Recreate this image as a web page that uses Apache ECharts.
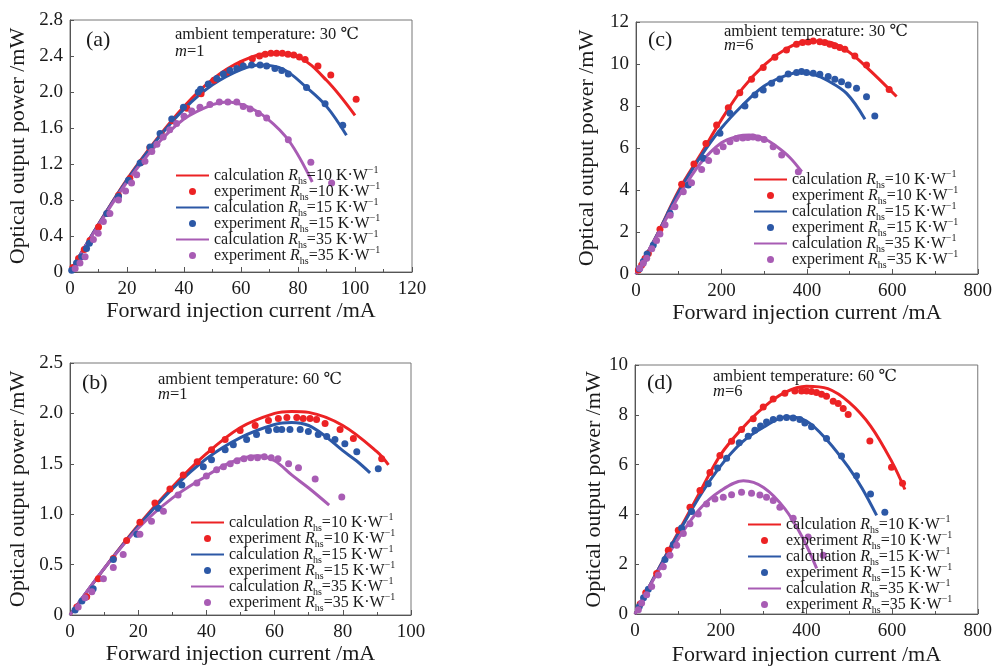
<!DOCTYPE html>
<html>
<head>
<meta charset="utf-8">
<script src="https://cdn.jsdelivr.net/npm/echarts@6/dist/echarts.min.js"></script>
<style>
  html, body { margin: 0; padding: 0; background: #fff; }
  #chart { width: 995px; height: 667px; }
</style>
</head>
<body>
<div id="chart"></div>
<script>
// ---- data: [current mA, power mW] ----
// (a) 30 C, m=1
var aCalc10 = [[0,0],[10,0.53],[20,1.03],[30,1.46],[40,1.84],[50,2.14],[60,2.34],[70,2.43],[80,2.39],[90,2.13],[100,1.74]];
var aCalc15 = [[0,0],[10,0.53],[20,1.02],[30,1.45],[40,1.81],[50,2.08],[60,2.25],[67,2.30],[75,2.25],[83,2.05],[90,1.84],[97,1.52]];
var aCalc35 = [[0,0],[10,0.52],[20,1.0],[30,1.40],[40,1.70],[50,1.86],[55,1.89],[62,1.84],[69,1.71],[77,1.45],[85,1.00]];
var aExp10 = [[1,0.05],[3,0.15],[5,0.25],[7,0.35],[10,0.5],[13,0.65],[17,0.85],[21,1.04],[25,1.22],[28,1.38],[32,1.53],[36,1.68],[41,1.82],[46,1.98],[50.5,2.13],[55,2.22],[60,2.31],[64,2.37],[66.5,2.4],[68.5,2.42],[70.5,2.43],[72.5,2.43],[74.5,2.43],[76.5,2.42],[78.5,2.41],[80.5,2.39],[82.5,2.36],[87,2.29],[91.5,2.19],[100.4,1.92]];
var aExp15 = [[0.6,0.02],[2.3,0.1],[4.1,0.17],[5.8,0.26],[6.8,0.32],[12.9,0.65],[17,0.84],[20.5,1.02],[24.6,1.21],[28.1,1.39],[31.6,1.54],[35.7,1.7],[39.8,1.83],[45,2.0],[45.8,2.03],[48.5,2.09],[51.5,2.15],[53.8,2.2],[56.1,2.24],[58.5,2.26],[60.8,2.29],[63.7,2.3],[66.7,2.3],[69,2.29],[71.9,2.26],[74.3,2.24],[76.6,2.2],[83,2.05],[89.5,1.87],[95.7,1.63]];
var aExp35 = [[1.8,0.04],[3.5,0.1],[5.3,0.17],[8.2,0.36],[9.9,0.43],[11.7,0.56],[14,0.65],[17,0.8],[19.5,0.9],[21.6,0.99],[23.4,1.08],[26.3,1.23],[28.7,1.34],[30.5,1.42],[32.7,1.5],[35,1.58],[37.4,1.65],[40,1.73],[42.7,1.79],[45.6,1.83],[49.1,1.86],[52.4,1.89],[55.4,1.89],[58.5,1.89],[60.8,1.84],[63.2,1.81],[66.1,1.76],[69,1.71],[76.6,1.47],[84.5,1.22],[91.8,0.99]];

// (b) 60 C, m=1
var bCalc10 = [[0,0],[10,0.46],[20,0.89],[30,1.27],[40,1.6],[50,1.86],[60,2.0],[65,2.02],[70,2.01],[80,1.88],[90,1.62],[93.4,1.49]];
var bCalc15 = [[0,0],[10,0.46],[20,0.88],[30,1.25],[40,1.55],[50,1.76],[60,1.89],[65,1.91],[70,1.88],[75,1.77],[80,1.63],[84,1.53],[88,1.41]];
var bCalc35 = [[0,0],[10,0.46],[20,0.86],[30,1.16],[40,1.38],[45,1.48],[50,1.55],[55,1.58],[60,1.53],[65,1.39],[70,1.26],[76,1.09]];
var bExp10 = [[2,0.08],[4.9,0.18],[8.3,0.36],[12.7,0.56],[16.6,0.74],[20.5,0.92],[24.9,1.11],[29.3,1.25],[33.2,1.39],[37.3,1.52],[41.5,1.64],[45.5,1.74],[49.9,1.83],[54.3,1.88],[58.2,1.93],[61.1,1.95],[63.6,1.96],[66.5,1.96],[68.4,1.95],[70.4,1.95],[72.3,1.94],[74.8,1.9],[79.2,1.84],[83.1,1.75],[91.4,1.55]];
var bExp15 = [[1.5,0.05],[3.5,0.14],[6.8,0.26],[12.7,0.55],[19.6,0.8],[25.9,1.06],[32.8,1.29],[39.1,1.47],[41.5,1.54],[45.5,1.64],[47.9,1.69],[51.8,1.74],[54.7,1.79],[58.2,1.83],[60.6,1.84],[62.1,1.84],[64.5,1.84],[67.5,1.84],[69.9,1.82],[72.8,1.79],[75.3,1.77],[77.7,1.74],[80.6,1.7],[84.1,1.62],[90.4,1.45]];
var bExp35 = [[2.4,0.08],[4.4,0.17],[6.4,0.23],[9.8,0.36],[12.7,0.47],[15.6,0.6],[20.5,0.8],[23.9,0.93],[27.4,1.03],[31.7,1.19],[37.2,1.31],[40,1.38],[43,1.44],[45,1.47],[47,1.5],[49,1.53],[51,1.55],[53,1.56],[55,1.56],[57,1.57],[59,1.56],[61,1.55],[64.1,1.5],[67,1.46],[71.9,1.35],[79.7,1.17]];

// (c) 30 C, m=6
var cCalc10 = [[0,0],[50,1.9],[100,3.98],[150,5.65],[200,7.35],[250,8.85],[300,9.95],[350,10.7],[400,11.1],[450,11.05],[500,10.55],[550,9.65],[610,8.45]];
var cCalc15 = [[0,0],[50,1.9],[100,3.9],[150,5.55],[200,6.95],[250,8.05],[300,8.95],[350,9.45],[384,9.59],[420,9.47],[446,9.24],[493,8.6],[536,7.37]];
var cCalc35 = [[0,0],[50,1.85],[100,3.7],[150,5.25],[200,6.25],[240,6.57],[265,6.62],[300,6.45],[330,6.06],[360,5.55],[388,4.87]];
var cExp10 = [[5.5,0.19],[13.3,0.43],[21.1,0.74],[28.9,0.98],[56.1,2.13],[106.8,4.27],[135.6,5.24],[163.7,6.22],[188.7,7.09],[216,7.92],[243,8.63],[270.5,9.27],[297.8,9.83],[325,10.32],[352.3,10.67],[375.7,10.94],[389.8,11.02],[403,11.05],[414.8,11.1],[430.3,11.06],[442,11.02],[453.8,10.94],[465.5,10.87],[477.2,10.78],[488.9,10.7],[512.3,10.38],[539.6,9.95],[592.6,8.79]];
var cExp15 = [[8,0.25],[17,0.6],[26,0.95],[40.5,1.38],[79.5,2.89],[122.4,4.24],[157.5,5.51],[196.5,6.7],[219.9,7.65],[255,8.0],[278.3,8.52],[297.8,8.76],[317.3,9.08],[336.8,9.29],[356.3,9.52],[375.8,9.6],[387.5,9.64],[399.2,9.59],[414.8,9.56],[430.4,9.51],[449.9,9.4],[465.5,9.27],[481.1,9.16],[496.7,9.0],[516.2,8.84],[539.6,8.44],[559,7.52]];
var cExp35 = [[9,0.27],[17,0.51],[25,0.75],[37,1.2],[48,1.6],[56,1.9],[68,2.35],[80,2.8],[91,3.2],[110.7,3.92],[130,4.35],[153.6,4.98],[170,5.4],[188.7,5.83],[204,6.06],[220,6.3],[235,6.45],[250,6.48],[262,6.5],[274,6.52],[286,6.48],[300,6.4],[321,6.06],[341,5.67],[380,4.87]];

// (d) 60 C, m=6
var dCalc10 = [[0,0],[50,1.65],[100,3.25],[150,4.85],[200,6.4],[250,7.45],[300,8.3],[350,8.9],[400,9.15],[450,9.05],[500,8.5],[550,7.55],[600,6.1],[630,5.0]];
var dCalc15 = [[0,0],[50,1.65],[100,3.2],[150,4.7],[200,5.95],[250,6.9],[300,7.5],[354,7.92],[400,7.75],[450,6.95],[500,5.85],[530,5.05],[564,3.96]];
var dCalc35 = [[0,0],[50,1.6],[100,3.0],[150,4.2],[200,4.95],[253,5.35],[300,5.08],[350,4.22],[390,3.1],[424,1.83]];
var dExp10 = [[12,0.4],[25,0.85],[50.5,1.63],[77.7,2.56],[101,3.36],[128.3,4.29],[151.6,4.96],[174.9,5.68],[198.2,6.37],[225.4,6.94],[248.7,7.41],[276,7.84],[299.3,8.31],[322.6,8.63],[349.8,8.87],[373.1,8.96],[388.7,8.96],[400.4,8.96],[412,8.94],[423.7,8.9],[435.4,8.83],[447,8.74],[462.6,8.54],[474.3,8.45],[486,8.25],[497.6,8.01],[548.2,6.95],[598.7,5.89],[624.4,5.25]];
var dExp15 = [[10,0.3],[20,0.65],[31.1,0.99],[70,2.19],[89.4,2.79],[108.8,3.45],[132.1,4.12],[171,5.23],[192.8,5.86],[213.8,6.26],[243.3,6.88],[264.3,7.14],[279.8,7.38],[293,7.55],[307,7.71],[322.6,7.81],[338.1,7.87],[353.7,7.89],[369.2,7.87],[384.8,7.81],[396.4,7.67],[412,7.52],[447,7.05],[482,6.35],[517,5.55],[549.7,4.82],[583.1,4.09]];
var dExp35 = [[7.8,0.17],[15.5,0.44],[27.2,0.77],[38.9,1.1],[54.4,1.57],[66.1,1.9],[81.6,2.36],[97.2,2.76],[112.8,3.23],[128.3,3.62],[147.7,4.02],[167.1,4.42],[186.6,4.62],[206,4.69],[225.4,4.79],[248.7,4.89],[272,4.85],[291.5,4.78],[307,4.69],[322.6,4.56],[338.1,4.29],[369.2,3.85],[404.2,3.09],[439.2,2.36]];

var panelTags = ['(a)', '(b)', '(c)', '(d)'];
var panelTemps = ['30', '60', '30', '60'];
var panelM = ['1', '1', '6', '6'];
var rhsValues = ['10', '15', '35'];

var calcData = [[aCalc10, aCalc15, aCalc35], [bCalc10, bCalc15, bCalc35], [cCalc10, cCalc15, cCalc35], [dCalc10, dCalc15, dCalc35]];
var expData = [[aExp10, aExp15, aExp35], [bExp10, bExp15, bExp35], [cExp10, cExp15, cExp35], [dExp10, dExp15, dExp35]];

var colors = ['#ec2224', '#2c58a6', '#a85cb4'];
var serif = '"Liberation Serif", "DejaVu Serif", serif';

// panel layout: a top-left, b bottom-left, c top-right, d bottom-right
var grids = [
  {left: 70, top: 20, width: 342, height: 252},
  {left: 70, top: 363, width: 341, height: 252},
  {left: 636, top: 22, width: 342, height: 252},
  {left: 635, top: 365, width: 343, height: 250}
];
var xMax = [120, 100, 800, 800], xStep = [20, 20, 200, 200];
var yMax = [2.8, 2.5, 12, 10], yStep = [0.4, 0.5, 2, 2];
var xNameGap = [26, 28, 26, 30], yNameGap = [41, 41, 38, 30];
var legendPos = [[175, 165], [190, 512], [753, 169], [747, 514]];
var textPos = [
  {tag: [86, 40], amb: [175, 35], m: [175, 52]},
  {tag: [82, 383], amb: [158, 380], m: [158, 395]},
  {tag: [648, 40], amb: [724, 32], m: [724, 46]},
  {tag: [647, 383], amb: [713, 377], m: [713, 392]}
];

var option = {
  animation: false,
  backgroundColor: '#fff',
  grid: [], xAxis: [], yAxis: [], series: [], legend: [], graphic: []
};

for (var p = 0; p < 4; p++) {
  var g = grids[p];
  option.grid.push({left: g.left, top: g.top, width: g.width, height: g.height,
    show: true, borderColor: '#777', borderWidth: 1, backgroundColor: 'transparent'});
  option.xAxis.push({
    type: 'value', gridIndex: p, min: 0, max: xMax[p], interval: xStep[p],
    name: 'Forward injection current /mA', nameLocation: 'middle', nameGap: xNameGap[p],
    nameTextStyle: {fontFamily: serif, fontSize: 22, color: '#1a1a1a'},
    axisLine: {show: true, onZero: false, lineStyle: {color: '#555', width: 1}},
    axisTick: {show: true, inside: true, length: 5, lineStyle: {color: '#555'}},
    minorTick: {show: true, splitNumber: 2, length: 3, lineStyle: {color: '#555'}},
    axisLabel: {fontFamily: serif, fontSize: 19, color: '#1a1a1a', margin: 8},
    splitLine: {show: false}
  });
  option.yAxis.push({
    type: 'value', gridIndex: p, min: 0, max: yMax[p], interval: yStep[p],
    name: 'Optical output power /mW', nameLocation: 'middle', nameGap: yNameGap[p],
    nameTextStyle: {fontFamily: serif, fontSize: 22, color: '#1a1a1a'},
    axisLine: {show: true, onZero: false, lineStyle: {color: '#555', width: 1}},
    axisTick: {show: true, inside: true, length: 4, lineStyle: {color: '#555'}},
    axisLabel: {fontFamily: serif, fontSize: 19, color: '#1a1a1a', margin: 7,
      formatter: (function (isInt) {
        return function (v) { return v === 0 ? '0' : (isInt ? String(v) : v.toFixed(1)); };
      })(p >= 2)},
    splitLine: {show: false}
  });

  var legendItems = [];
  for (var k = 0; k < 3; k++) {
    var cn = 'calculation|' + rhsValues[k] + '|' + p;
    var en = 'experiment|' + rhsValues[k] + '|' + p;
    // line icon only, no marker in the middle
    legendItems.push({name: cn, itemStyle: {opacity: 0}}, {name: en});
    option.series.push({
      name: cn, type: 'line', xAxisIndex: p, yAxisIndex: p,
      data: calcData[p][k], smooth: 0.35, symbol: 'none', z: 2,
      lineStyle: {color: colors[k], width: 3}, itemStyle: {color: colors[k]}
    });
  }
  for (var k2 = 0; k2 < 3; k2++) {
    option.series.push({
      name: 'experiment|' + rhsValues[k2] + '|' + p, type: 'scatter', xAxisIndex: p, yAxisIndex: p,
      data: expData[p][k2], symbol: 'circle', symbolSize: 7, z: 3,
      itemStyle: {color: colors[k2], opacity: 1}
    });
  }

  option.legend.push({
    data: legendItems, orient: 'vertical', left: legendPos[p][0], top: legendPos[p][1],
    padding: 0, itemGap: -5, itemWidth: 33, itemHeight: 7, selectedMode: false,
    formatter: function (name) {
      var s = name.split('|');
      return '{t|' + s[0] + ' }{i|R}{s|hs}{t|=' + s[1] + ' K\u00b7W}{p|\u22121}';
    },
    textStyle: {
      rich: {
        t: {fontFamily: serif, fontSize: 16, color: '#1a1a1a', verticalAlign: 'middle'},
        i: {fontFamily: serif, fontSize: 16, fontStyle: 'italic', color: '#1a1a1a', verticalAlign: 'middle'},
        s: {fontFamily: serif, fontSize: 10, color: '#1a1a1a', verticalAlign: 'bottom', padding: [11, 0, 0, 0]},
        p: {fontFamily: serif, fontSize: 10, color: '#1a1a1a', verticalAlign: 'top'}
      }
    }
  });

  var tp = textPos[p];
  option.graphic.push(
    {type: 'text', x: tp.tag[0], y: tp.tag[1], z: 10,
      style: {text: panelTags[p], fontFamily: serif, fontSize: 22, fill: '#1a1a1a', verticalAlign: 'middle'}},
    {type: 'text', x: tp.amb[0], y: tp.amb[1], z: 10,
      style: {text: 'ambient temperature: ' + panelTemps[p] + ' \u2103', fontFamily: serif, fontSize: 16.5, fill: '#1a1a1a', verticalAlign: 'middle'}},
    {type: 'text', x: tp.m[0], y: tp.m[1], z: 10,
      style: {text: '{i|m}=' + panelM[p], fontFamily: serif, fontSize: 16.5, fill: '#1a1a1a', verticalAlign: 'middle',
        rich: {i: {fontFamily: serif, fontSize: 16.5, fontStyle: 'italic', fill: '#1a1a1a'}}}}
  );
}

var chart = echarts.init(document.getElementById('chart'), null, {renderer: 'canvas'});
chart.setOption(option);
</script>
</body>
</html>
